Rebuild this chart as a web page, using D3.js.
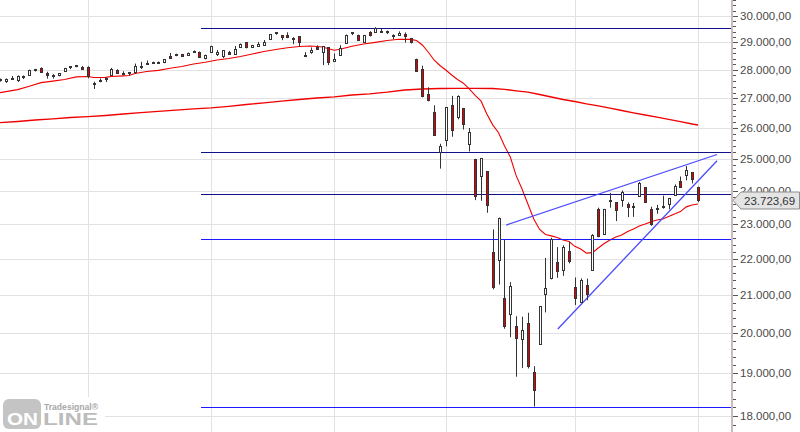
<!DOCTYPE html>
<html><head><meta charset="utf-8">
<script src="https://cdn.jsdelivr.net/npm/d3@7"></script>
<style>html,body{margin:0;padding:0;background:#fff;}svg{display:block;}</style>
</head><body>
<svg id="chart" width="800" height="432"></svg>
<script>
const dates = ["2019-11-08","2019-11-11","2019-11-12","2019-11-13","2019-11-14","2019-11-15","2019-11-18","2019-11-19","2019-11-20","2019-11-21","2019-11-22","2019-11-25","2019-11-26","2019-11-27","2019-11-29",
"2019-12-02","2019-12-03","2019-12-04","2019-12-05","2019-12-06","2019-12-09","2019-12-10","2019-12-11","2019-12-12","2019-12-13","2019-12-16","2019-12-17","2019-12-18","2019-12-19","2019-12-20","2019-12-23","2019-12-24","2019-12-26","2019-12-27","2019-12-30","2019-12-31",
"2020-01-02","2020-01-03","2020-01-06","2020-01-07","2020-01-08","2020-01-09","2020-01-10","2020-01-13","2020-01-14","2020-01-15","2020-01-16","2020-01-17","2020-01-21","2020-01-22","2020-01-23","2020-01-24","2020-01-27","2020-01-28","2020-01-29","2020-01-30","2020-01-31",
"2020-02-03","2020-02-04","2020-02-05","2020-02-06","2020-02-07","2020-02-10","2020-02-11","2020-02-12","2020-02-13","2020-02-14","2020-02-18","2020-02-19","2020-02-20","2020-02-21","2020-02-24","2020-02-25","2020-02-26","2020-02-27","2020-02-28",
"2020-03-02","2020-03-03","2020-03-04","2020-03-05","2020-03-06","2020-03-09","2020-03-10","2020-03-11","2020-03-12","2020-03-13","2020-03-16","2020-03-17","2020-03-18","2020-03-19","2020-03-20","2020-03-23","2020-03-24","2020-03-25","2020-03-26","2020-03-27","2020-03-30","2020-03-31",
"2020-04-01","2020-04-02","2020-04-03","2020-04-06","2020-04-07","2020-04-08","2020-04-09","2020-04-13","2020-04-14","2020-04-15","2020-04-16","2020-04-17","2020-04-20","2020-04-21","2020-04-22","2020-04-23","2020-04-24","2020-04-27","2020-04-28","2020-04-29","2020-04-30",
"2020-05-01"];

const open = [27640,27614,27696,27625,27757,27844,28011,28069,27886,27817,27800,27945,28092,28146,28115,
28109,27530,27620,27700,27797,28000,27900,27867,27909,28123,28191,28240,28267,28276,28510,28560,28573,28539,28675,28654,28414,
28639,28554,28466,28640,28556,28852,29008,28837,28875,28924,29114,29373,29271,29263,29111,29230,28525,28641,28820,28640,28813,
28319,28562,28987,29330,29286,29019,29389,29406,29398,29441,29283,29280,29307,29150,28402,28027,27152,26535,25229,
25591,26762,26384,26671,25458,24992,24454,24604,22184,21974,20918,20500,20200,19861,20253,19028,19722,21050,21468,21899,21678,22208,
21227,20819,21285,21693,23450,22700,23700,23640,23709,23600,23545,23853,24103,23455,23440,23530,23600,23860,24300,24480,24576,
24120];
const high = [27690,27695,27781,27800,27800,28006,28036,28091,27932,27844,27877,28068,28122,28174,28134,
28127,27580,27696,27721,28068,28017,27949,27925,28224,28290,28337,28290,28302,28377,28608,28582,28576,28625,28701,28664,28548,
28872,28717,28709,28686,28866,28958,29009,28907,29016,29087,29298,29374,29273,29374,29192,29232,28641,28813,28893,28860,28813,
28593,28895,29292,29380,29286,29277,29415,29568,29513,29442,29301,29408,29370,29165,28402,28149,27384,26760,25477,
26706,27084,27102,26671,25995,24992,25020,24604,22838,23186,22536,21350,20440,20430,20531,19177,20710,22020,22596,22327,22378,22480,
21478,21451,21447,22700,23480,23443,23930,23640,24000,23638,23620,24264,24105,23507,23566,23844,23776,24188,24433,24764,24576,
24120];
const low = [27580,27533,27646,27567,27673,27844,27939,27911,27686,27688,27768,27945,28025,28091,28031,
27698,27325,27556,27566,27797,27909,27804,27801,27859,28028,28191,28224,28239,28237,28406,28491,28503,28539,28609,28429,28377,
28627,28500,28418,28565,28556,28835,28777,28826,28875,28904,29114,29282,29079,29155,28933,28846,28459,28580,28728,28170,28169,
28319,28562,28961,29269,29047,29011,29218,29406,29386,29308,29117,29279,28992,28955,27925,27034,26896,25766,24681,
25391,25706,26286,25943,25227,23707,23690,23329,21154,21286,20117,19900,18921,19130,19122,18214,19722,20541,21425,21469,21523,21868,
20735,20784,20863,21693,22609,22700,23480,23082,23508,23200,23207,23853,23619,22942,23300,23450,23433,23860,24091,24315,24220,
23645];
const close = [27681,27691,27691,27784,27782,28005,28036,27934,27821,27766,27876,28066,28122,28164,28051,
27783,27503,27650,27678,28015,27910,27882,27911,28132,28135,28236,28267,28239,28377,28455,28552,28515,28621,28645,28462,28538,
28869,28635,28703,28584,28745,28957,28824,28907,28940,29030,29298,29348,29196,29186,29160,28990,28536,28723,28734,28859,28256,
28400,28808,29291,29380,29103,29277,29276,29551,29423,29398,29232,29348,29220,28992,27961,27081,26958,25767,25409,
26703,25917,27091,26121,25865,23851,25018,23553,21201,23186,20189,21237,19899,20087,19174,18592,20705,21201,22552,21637,22327,21917,
20944,21413,21053,22680,22654,23434,23719,23391,23950,23504,23538,24242,23650,23019,23476,23515,23775,24134,24102,24634,24346,
23723.69];

// short moving average: [candle index, value]
const maShort = [[0,27195],[3,27300],[5,27420],[7,27545],[9,27598],[11,27655],[13,27750],[15,27760],[16,27725],[18,27730],[19,27760],[21,27785],[22,27800],[23,27870],[25,27940],[27,27980],[29,28055],[31,28120],[33,28210],[35,28275],[37,28354],[39,28408],[41,28480],[43,28570],[45,28660],[47,28735],[49,28800],[51,28845],[53,28865],[55,28830],[56,28765],[57,28707],[58,28745],[60,28857],[62,28940],[64,29000],[66,29070],[68,29115],[70,29110],[71,29070],[72,28902],[73,28645],[74,28354],[75,28155],[76,27994],[77,27816],[78,27657],[79,27525],[80,27324],[81,27100],[82,26910],[83,26465],[84,26100],[85,25840],[86,25410],[87,25050],[88,24460],[89,24048],[90,23590],[91,23145],[92,22835],[93,22690],[94,22650],[95,22605],[96,22532],[97,22485],[98,22350],[99,22275],[100,22155],[101,22170],[102,22303],[103,22430],[104,22532],[105,22618],[106,22675],[107,22778],[108,22851],[109,22938],[110,22997],[111,23064],[112,23115],[113,23144],[114,23219],[115,23294],[116,23364],[117,23505],[118,23560],[119,23592]];

// long moving average: [candle index, value]
const maLong = [[0,26171],[3,26212],[6,26262],[9,26302],[12,26346],[15,26373],[18,26413],[21,26464],[24,26511],[27,26555],[30,26593],[33,26641],[36,26674],[39,26726],[42,26787],[45,26845],[48,26900],[51,26959],[54,27011],[57,27052],[60,27114],[63,27156],[66,27212],[69,27288],[72,27322],[75,27340],[78,27346],[81,27346],[84,27340],[86,27312],[88,27260],[90,27212],[92,27131],[94,27045],[96,26959],[98,26890],[100,26811],[102,26742],[104,26661],[106,26583],[108,26505],[110,26430],[112,26356],[114,26282],[116,26208],[118,26128],[119,26095]];

// horizontal support / resistance levels
const levels = [29544, 25206, 23900, 22557, 18207];
const levelStart = 34.3;   // candle index where the levels begin

// trend lines: [candle index, value]
const trendUpper = [[86.3, 22966], [122.25, 25130]];
const trendLower = [[95.1, 20109], [122.25, 24932]];

const axisTicks = d3.range(18000, 30001, 1000);
const monthStarts = [15, 36, 57, 76, 98, 119];

// ---------- drawing ----------
const W = 800, H = 432, plotRight = 731;
const svg = d3.select("#chart");
const y = d3.scaleLog().domain([18000, 30000]).range([415.8, 15.8]);
const x = d3.scaleLinear().domain([0, 119]).range([0, 698]);
const px = i => Math.round(x(i)) + 0.5;
const py = v => Math.round(y(v)) + 0.5;

const locale = d3.formatLocale({decimal: ",", thousands: ".", grouping: [3], currency: ["", ""]});
const fmt = locale.format(",.2f");

// grid
svg.append("g").selectAll("line").data(axisTicks).join("line")
  .attr("x1", 0).attr("x2", plotRight).attr("y1", d => py(d)).attr("y2", d => py(d))
  .attr("stroke", "#e2e2e2").attr("stroke-width", 1);
svg.append("g").selectAll("line").data(monthStarts).join("line")
  .attr("x1", d => px(d)).attr("x2", d => px(d)).attr("y1", 0).attr("y2", H)
  .attr("stroke", "#e2e2e2").attr("stroke-width", 1);

// moving averages
const line = d3.line().x(d => x(d[0])).y(d => y(d[1]));
svg.append("path").attr("d", line(maLong)).attr("fill", "none").attr("stroke", "#f00000").attr("stroke-width", 1.3);
svg.append("path").attr("d", line(maShort)).attr("fill", "none").attr("stroke", "#f00000").attr("stroke-width", 1.1);

// horizontal levels
svg.append("g").selectAll("line").data(levels).join("line")
  .attr("x1", Math.round(x(levelStart))).attr("x2", plotRight)
  .attr("y1", d => py(d)).attr("y2", d => py(d))
  .attr("stroke", (d, i) => i < 3 ? "#10108a" : "#1a1aff").attr("stroke-width", 1)
  .attr("shape-rendering", "crispEdges");

// trend lines
[trendUpper, trendLower].forEach(t => {
  svg.append("path").attr("d", line(t)).attr("fill", "none")
    .attr("stroke", "#4a4aff").attr("stroke-width", 1.3);
});

// candles
const cg = svg.append("g");
dates.forEach((d, i) => {
  const cx = px(i);
  cg.append("line").attr("x1", cx).attr("x2", cx)
    .attr("y1", y(high[i])).attr("y2", y(low[i]))
    .attr("stroke", "#333").attr("stroke-width", 1);
  const top = y(Math.max(open[i], close[i])), bot = y(Math.min(open[i], close[i]));
  const t = Math.round(top) + 0.5;
  const h = Math.max(1, Math.round(bot - top));
  cg.append("rect").attr("x", cx - 1).attr("width", 2)
    .attr("y", t).attr("height", h)
    .attr("fill", close[i] >= open[i] ? "#ffffff" : "#e00000")
    .attr("stroke", "#333").attr("stroke-width", 1);
});

// right axis
svg.append("rect").attr("x", plotRight).attr("y", 0).attr("width", 2).attr("height", H).attr("fill", "#cdb9b9");
const minor = d3.range(17800, 31001, 200);
svg.append("g").selectAll("line").data(minor).join("line")
  .attr("x1", plotRight + 2).attr("x2", d => plotRight + (d % 1000 === 0 ? 7 : 5))
  .attr("y1", d => py(d)).attr("y2", d => py(d))
  .attr("stroke", "#555").attr("stroke-width", 1);
svg.append("g").selectAll("text").data(axisTicks).join("text")
  .attr("x", 740).attr("y", d => y(d) + 4)
  .attr("font-family", "Liberation Sans, Arial, sans-serif").attr("font-size", 11.5)
  .attr("fill", "#4a4a4a").text(d => fmt(d));

// last price tag
const last = close[close.length - 1];
const ly = Math.round(y(last)) + 0.5;
svg.append("path")
  .attr("d", `M${plotRight + 2},${ly} L${741},${ly - 8.5} L${799.5},${ly - 8.5} L${799.5},${ly + 8.5} L${741},${ly + 8.5} Z`)
  .attr("fill", "#e4e4e4").attr("stroke", "#8c8c8c").attr("stroke-width", 1);
svg.append("text").attr("x", 744).attr("y", ly + 4.5)
  .attr("font-family", "Liberation Sans, Arial, sans-serif").attr("font-size", 11.5)
  .attr("fill", "#333").text(fmt(last));

// watermark logo
const lg = svg.append("g");
lg.append("rect").attr("x", 0).attr("y", 397).attr("width", 105).attr("height", 35).attr("fill", "#fff");
lg.append("rect").attr("x", 3).attr("y", 399).attr("width", 38).attr("height", 30).attr("rx", 6).attr("fill", "#c4c4c4");
lg.append("text").attr("x", 7).attr("y", 425).attr("textLength", 31).attr("lengthAdjust", "spacingAndGlyphs")
  .attr("font-family", "Liberation Sans, Arial, sans-serif").attr("font-weight", "bold").attr("font-size", 17)
  .attr("fill", "#ffffff").text("ON");
lg.append("text").attr("x", 43).attr("y", 425).attr("textLength", 55).attr("lengthAdjust", "spacingAndGlyphs")
  .attr("font-family", "Liberation Sans, Arial, sans-serif").attr("font-weight", "bold").attr("font-size", 17)
  .attr("fill", "#bcbcbc").text("LINE");
lg.append("text").attr("x", 44).attr("y", 409.5).attr("textLength", 54).attr("lengthAdjust", "spacingAndGlyphs")
  .attr("font-family", "Liberation Sans, Arial, sans-serif").attr("font-weight", "bold").attr("font-size", 8.5)
  .attr("fill", "#a8a8a8").text("Tradesignal®");
</script>
</body></html>
